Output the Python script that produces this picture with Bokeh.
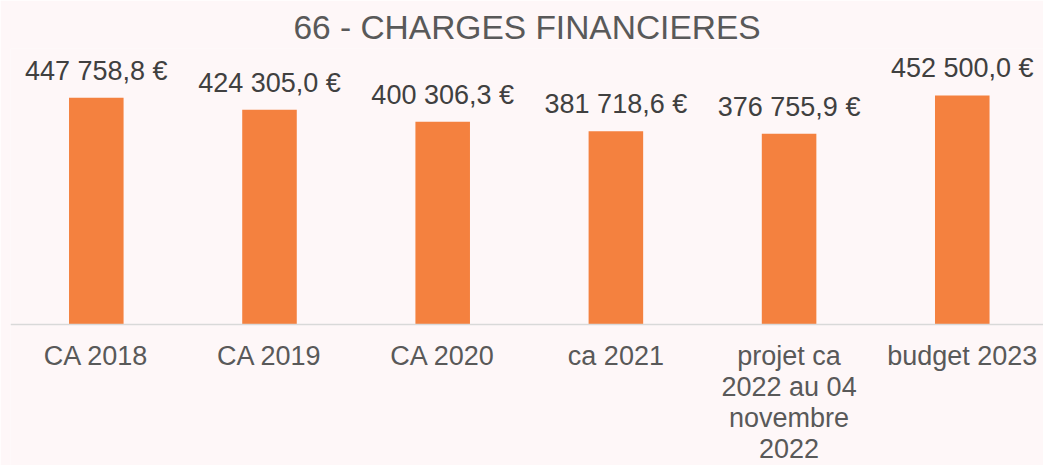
from bokeh.plotting import figure
from bokeh.models import ColumnDataSource, Range1d, Span
from bokeh.core.properties import value
from bokeh.embed import file_html
from bokeh.resources import INLINE

categories = ["CA 2018", "CA 2019", "CA 2020", "ca 2021",
              "projet ca\n2022 au 04\nnovembre\n2022", "budget 2023"]
values = [447758.8, 424305.0, 400306.3, 381718.6, 376755.9, 452500.0]
labels = ["447 758,8 €", "424 305,0 €", "400 306,3 €", "381 718,6 €",
          "376 755,9 €", "452 500,0 €"]

BG = "#FEF7F8"
BAR = "#F4813F"
FONT = "Liberation Sans"

# layout: frame from y=48 to the figure bottom (465); zero line at 324 px
PER_PX = 1975.5
Y_START = -(465 - 324) * PER_PX
Y_END = (324 - 48) * PER_PX

xs = list(range(len(categories)))
src = ColumnDataSource(dict(x=xs, top=values, label=labels,
                            base=[0] * len(xs), cat=categories))

p = figure(width=1043, height=465, output_backend="svg", toolbar_location=None,
           x_range=Range1d(-0.4954, 5.469), y_range=Range1d(Y_START, Y_END),
           min_border_left=10, min_border_right=0, min_border_bottom=0,
           min_border_top=48,
           background_fill_color=BG, border_fill_color=BG, outline_line_color=None,
           title="66 - CHARGES FINANCIERES")

p.title.align = "center"
p.title.text_font = FONT
p.title.text_font_size = "33.5px"
p.title.text_font_style = "normal"
p.title.text_color = "#595959"
p.title.standoff = 6
p.title.offset = 0

p.vbar(x="x", top="top", width=0.315, source=src, color=BAR, line_color=None)
p.text(x="x", y="top", text="label", source=src, text_align="center",
       text_baseline="bottom", y_offset=-12, text_font=value(FONT),
       text_font_size="27px", text_color="#404040")
p.text(x="x", y="base", text="cat", source=src, text_align="center",
       text_baseline="top", y_offset=16, text_font=value(FONT),
       text_font_size="27px", text_color="#595959", text_line_height=1.04)

p.add_layout(Span(location=0, dimension="width", line_color="#D9D9D9",
                  line_width=1.5))

p.xgrid.visible = False
p.ygrid.visible = False
p.xaxis.visible = False
p.yaxis.visible = False

html = file_html(p, INLINE)
html = html.replace("<body>", '<body style="background:%s">' % BG, 1)
open("out.html", "w").write(html)
